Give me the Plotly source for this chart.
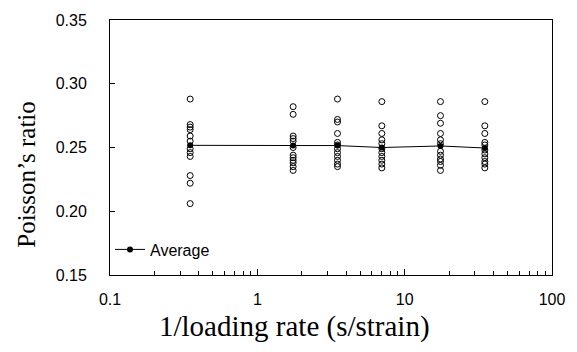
import plotly.graph_objects as go

# 1/loading rate (s/strain) for each test group
rates = [0.35, 1.75, 3.5, 7, 17.5, 35]

# individual Poisson's ratio measurements per group
group_1 = [0.288, 0.268, 0.266, 0.264, 0.259, 0.255, 0.249, 0.246, 0.243, 0.228, 0.222, 0.206]
group_2 = [0.282, 0.276, 0.259, 0.257, 0.255, 0.250, 0.244, 0.242, 0.240, 0.238, 0.235, 0.232]
group_3 = [0.288, 0.272, 0.270, 0.261, 0.254, 0.252, 0.249, 0.246, 0.243, 0.240, 0.237, 0.235]
group_4 = [0.286, 0.267, 0.261, 0.256, 0.253, 0.249, 0.246, 0.243, 0.240, 0.237, 0.234]
group_5 = [0.286, 0.275, 0.269, 0.261, 0.256, 0.253, 0.247, 0.244, 0.241, 0.239, 0.236, 0.232]
group_6 = [0.286, 0.267, 0.261, 0.254, 0.252, 0.248, 0.245, 0.242, 0.239, 0.237, 0.234]
groups = [group_1, group_2, group_3, group_4, group_5, group_6]

# average per group
average = [0.2517, 0.2515, 0.2515, 0.2500, 0.2512, 0.2496]

y_ticks = [0.15, 0.20, 0.25, 0.30, 0.35]
x_ticks = [0.1, 1, 10, 100]
x_tick_labels = ["0.1", "1", "10", "100"]

fig = go.Figure()

for r, vals in zip(rates, groups):
    fig.add_trace(go.Scatter(
        x=[r] * len(vals), y=vals, mode="markers",
        marker=dict(symbol="circle-open", size=6, color="black", line=dict(width=1, color="black")),
        showlegend=False, hoverinfo="skip",
    ))

fig.add_trace(go.Scatter(
    x=rates, y=average, mode="lines+markers", name="Average",
    line=dict(color="black", width=1),
    marker=dict(symbol="circle", size=6, color="black"),
))

tick_font = dict(family="Liberation Sans, Arial", size=16, color="black")

fig.update_layout(
    width=577, height=352,
    margin=dict(l=110, r=24, t=16, b=77),
    paper_bgcolor="white", plot_bgcolor="white",
    font=tick_font,
    legend=dict(
        x=0.0, y=0.1, xanchor="left", yanchor="middle",
        bgcolor="rgba(0,0,0,0)", font=dict(family="Liberation Sans, Arial", size=16, color="black"),
        itemwidth=30,
    ),
    xaxis=dict(
        type="log", range=[-1, 2],
        tickvals=x_ticks, ticktext=x_tick_labels,
        ticks="inside", ticklen=6, tickcolor="black",
        minor=dict(ticks="inside", ticklen=4, tickcolor="black", dtick="D1", showgrid=False),
        showline=True, linecolor="black", linewidth=1, mirror=True,
        showgrid=False, zeroline=False,
        tickfont=tick_font, ticklabelstandoff=10,
    ),
    yaxis=dict(
        range=[0.15, 0.35],
        tickvals=y_ticks, tickformat=".2f",
        ticks="inside", ticklen=5, tickcolor="black",
        showline=True, linecolor="black", linewidth=1, mirror=True,
        showgrid=False, zeroline=False,
        tickfont=tick_font, ticklabelstandoff=19,
    ),
    annotations=[
        dict(text="1/loading rate (s/strain)", x=295, y=327, xref="paper", yref="paper",
             xanchor="center", yanchor="middle",
             showarrow=False, font=dict(family="Liberation Serif, Times New Roman", size=29, color="black")),
        dict(text="Poisson\u2019s ratio", x=26, y=173, xref="paper", yref="paper",
             xanchor="center", yanchor="middle",
             textangle=-90, showarrow=False,
             font=dict(family="Liberation Serif, Times New Roman", size=25, color="black")),
    ],
)

# convert pixel-positioned annotations into paper coords
pw = 577 - 110 - 24
ph = 352 - 16 - 77
for a in fig.layout.annotations:
    px, py = a.x, a.y
    a.x = (px - 110) / pw
    a.y = 1 - (py - 16) / ph

fig.write_html("out.html")
